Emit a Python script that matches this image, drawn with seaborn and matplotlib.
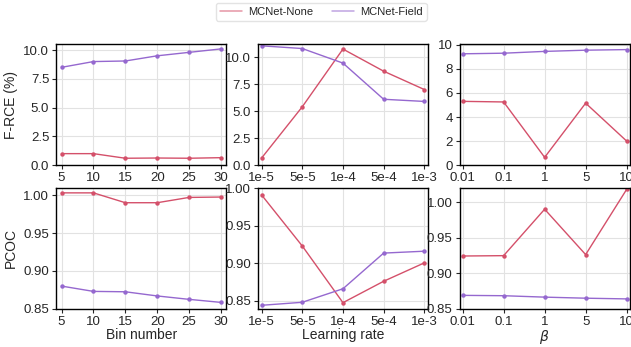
import matplotlib
matplotlib.use("Agg")
import matplotlib.pyplot as plt
import seaborn as sns
import pandas as pd

# x values per panel column
bins = [5, 10, 15, 20, 25, 30]
lrs = ["1e-5", "5e-5", "1e-4", "5e-4", "1e-3"]
betas = ["0.01", "0.1", "1", "5", "10"]

# F-RCE (%)
frce_bins_none = [1.0, 1.0, 0.6, 0.62, 0.6, 0.65]
frce_bins_field = [8.5, 9.0, 9.05, 9.5, 9.8, 10.1]
frce_lr_none = [0.65, 5.4, 10.75, 8.7, 7.0]
frce_lr_field = [11.05, 10.8, 9.45, 6.1, 5.9]
frce_beta_none = [5.3, 5.25, 0.65, 5.15, 2.0]
frce_beta_field = [9.25, 9.3, 9.45, 9.55, 9.6]

# PCOC
pcoc_bins_none = [1.003, 1.003, 0.990, 0.990, 0.997, 0.9975]
pcoc_bins_field = [0.880, 0.873, 0.8725, 0.867, 0.8625, 0.8585]
pcoc_lr_none = [0.991, 0.923, 0.8475, 0.876, 0.9005]
pcoc_lr_field = [0.844, 0.848, 0.866, 0.9135, 0.916]
pcoc_beta_none = [0.9245, 0.925, 0.9905, 0.9265, 1.0185]
pcoc_beta_field = [0.869, 0.8685, 0.8665, 0.865, 0.864]

methods = ["MCNet-None", "MCNet-Field"]
colors = {"MCNet-None": "#d4506a", "MCNet-Field": "#9568cf"}

sns.set_theme(style="ticks")
plt.rcParams["font.family"] = ["Liberation Sans", "DejaVu Sans"]
plt.rcParams["font.size"] = 9.5

fig, axes = plt.subplots(2, 3, figsize=(6.31, 3.47), dpi=100)
fig.subplots_adjust(left=0.089, right=0.998, top=0.872, bottom=0.11,
                    wspace=0.185, hspace=0.19)


def make_df(x, none_vals, field_vals):
    return pd.DataFrame({
        "x": list(x) * 2,
        "y": list(none_vals) + list(field_vals),
        "method": [methods[0]] * len(x) + [methods[1]] * len(x),
    })


panels = [
    (bins, frce_bins_none, frce_bins_field),
    (lrs, frce_lr_none, frce_lr_field),
    (betas, frce_beta_none, frce_beta_field),
    (bins, pcoc_bins_none, pcoc_bins_field),
    (lrs, pcoc_lr_none, pcoc_lr_field),
    (betas, pcoc_beta_none, pcoc_beta_field),
]
ylims = [(0, 10.49), (0, 11.18), (0, 10.03),
         (0.85, 1.0093), (0.8393, 1.0), (0.85, 1.0203)]
xlims = [(4.15, 30.85), (-0.09, 4.09), (-0.075, 4.075)] * 2

for ax, (x, a, b), yl, xl in zip(axes.flat, panels, ylims, xlims):
    df = make_df(x, a, b)
    sns.lineplot(data=df, x="x", y="y", hue="method", palette=colors,
                 marker="o", markersize=3.2, markeredgewidth=0,
                 linewidth=1.0, ax=ax, legend=False, sort=False)
    ax.set_ylim(*yl)
    ax.set_xlim(*xl)
    if x is bins:
        ax.set_xticks(bins)
    ax.grid(True, color="#e2e2e2", linewidth=0.8)
    ax.set_axisbelow(True)
    for s in ax.spines.values():
        s.set_visible(True)
        s.set_linewidth(1.0)
        s.set_color("black")
    ax.tick_params(length=3, width=0.8, pad=2, labelsize=9.5)
    ax.set_xlabel("")
    ax.set_ylabel("")

axes[0, 0].set_yticks([0, 2.5, 5, 7.5, 10])
axes[0, 0].set_yticklabels(["0.0", "2.5", "5.0", "7.5", "10.0"])
axes[0, 1].set_yticks([0, 2.5, 5, 7.5, 10])
axes[0, 1].set_yticklabels(["0.0", "2.5", "5.0", "7.5", "10.0"])
axes[0, 2].set_yticks([0, 2, 4, 6, 8, 10])
for ax in axes[1]:
    ax.set_yticks([0.85, 0.90, 0.95, 1.00])
    ax.set_yticklabels(["0.85", "0.90", "0.95", "1.00"])

axes[0, 0].set_ylabel("F-RCE (%)", fontsize=10)
axes[1, 0].set_ylabel("PCOC", fontsize=10)
axes[1, 0].set_xlabel("Bin number", fontsize=10, labelpad=0)
axes[1, 1].set_xlabel("Learning rate", fontsize=10, labelpad=0)
axes[1, 2].set_xlabel(r"$\beta$", fontsize=10, labelpad=0)

handles = [plt.Line2D([], [], color=colors[m], linewidth=1.1, alpha=0.6)
           for m in methods]
fig.legend(handles, methods, loc="upper center", ncol=2,
           bbox_to_anchor=(0.509, 1.0), frameon=True, fontsize=8,
           handlelength=2.0, handletextpad=0.55, columnspacing=1.7,
           edgecolor="#dddddd", fancybox=True, borderpad=0.35,
           borderaxespad=0.25)

fig.savefig("out.png", dpi=100)
